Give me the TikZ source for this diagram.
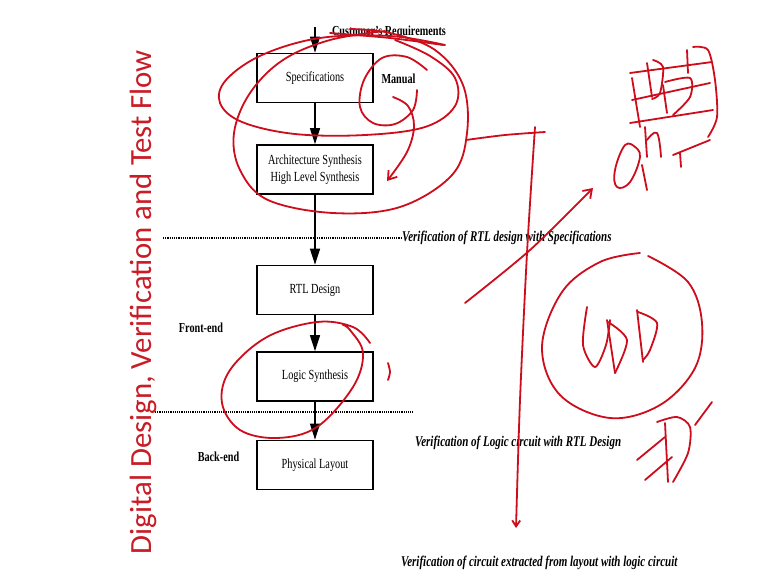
\documentclass[tikz,border=0pt]{standalone}
\usepackage{fontspec}
\setmainfont{Liberation Serif}
\newfontfamily\titlefont{Carlito}
\usetikzlibrary{arrows.meta}

\definecolor{ink}{RGB}{205,12,28}
\definecolor{titlered}{RGB}{200,28,38}

% diagram lettering is set a little taller than wide
\newcommand{\tall}[1]{\scalebox{1}[1.35]{#1}}

\begin{document}
\begin{tikzpicture}[x=1pt,y=-1pt,
  stage/.style={draw, line width=1.7pt, minimum width=116pt, minimum height=49pt,
    inner sep=0pt, font=\fontsize{10.3}{12.4}\selectfont},
  flow/.style={line width=1.3pt, -{Triangle[length=16pt,width=10pt]}},
  side/.style={font=\fontsize{10.2}{12}\selectfont\bfseries, inner sep=0pt},
  verif/.style={font=\fontsize{11}{13}\selectfont\bfseries\itshape, anchor=west, inner sep=0pt},
  sepline/.style={line width=1.3pt, dash pattern=on 1.1pt off 1.1pt},
  pen/.style={ink, line width=1.8pt, line cap=round, line join=round},
  barb/.style={-{Straight Barb[length=8pt,width=11pt]}},
  ]
\useasboundingbox (0,0) rectangle (767,581);
\fill[white] (0,0) rectangle (767,581);

% ---- flow stages ----
\node[stage] (spec)  at (315,78)    {\tall{Specifications}};
\node[stage] (arch)  at (315,169.5) {\tall{\begin{tabular}{@{}c@{}}Architecture Synthesis\\High Level Synthesis\end{tabular}}};
\node[stage] (rtl)   at (315,290)   {\tall{RTL Design}};
\node[stage] (logic) at (315,376.5) {\tall{Logic Synthesis}};
\node[stage] (phys)  at (315,465)   {\tall{Physical Layout}};

\coordinate (req) at (315,27);
\draw[flow] (req) -- (spec);
\draw[flow] (spec) -- (arch);
\draw[flow] (arch) -- (rtl);
\draw[flow] (rtl) -- (logic);
\draw[flow] (logic) -- (phys);

% ---- side labels ----
\node[side] (cust) at (389,32)    {\tall{Customer's Requirements}};
\node[side] (man)  at (398.5,79)  {\tall{Manual}};
\node[side] (fe)   at (201,328)   {\tall{Front-end}};
\node[side] (be)   at (218.5,457) {\tall{Back-end}};

% ---- verification steps ----
\node[verif] (v1) at (402,238) {\tall{Verification of RTL design with Specifications}};
\node[verif] (v2) at (415,443) {\tall{Verification of Logic circuit with RTL Design}};
\node[verif] (v3) at (401,563) {\tall{Verification of circuit extracted from layout with logic circuit}};

\coordinate (d1) at (163,238);
\draw[sepline] (d1) -- (v1.west);
\coordinate (d2a) at (155,412);
\coordinate (d2b) at (413,412);
\draw[sepline] (d2a) -- (d2b);

% ---- title ----
\node[rotate=90, anchor=base, text=titlered, inner sep=0pt,
  font=\titlefont\fontsize{30.8}{36}\selectfont] (title) at (151,302)
  {Digital Design, Verification and Test Flow};

% ---- pen annotations ----
% strike through the requirements label
\draw[pen] plot[smooth] coordinates {(330,33) (390,38) (443,45)};
% loops around the front stages
\draw[pen] plot[smooth, tension=0.6] coordinates {(445,45) (390,36) (320,38) (262,55) (226,80) (220,103) (242,122) (295,134) (365,135) (425,127) (455,106) (455,78) (430,56) (395,40)};
\draw[pen] plot[smooth, tension=0.6] coordinates {(385,31) (330,40) (283,60) (250,93) (234,133) (240,170) (268,200) (333,213) (400,207) (452,175) (467,133) (463,85) (435,50) (390,33) (350,29)};
% small curl beside the manual label
\draw[pen] plot[smooth, tension=0.6] coordinates {(427,70) (407,57) (382,58) (364,80) (360,107) (373,123) (395,124) (413,110) (417,90)};
\draw[pen, barb] plot[smooth, tension=0.6] coordinates {(393,97) (408,106) (414,126) (407,152) (387,181)};
% branch off to the right and long arrow down
\draw[pen] plot[smooth] coordinates {(466,140) (505,135) (545,132)};
\draw[pen, -{Straight Barb[length=6pt,width=8pt]}] plot[smooth] coordinates {(535,127) (527,253) (520,400) (516,528)};
% rising arrow
\draw[pen, barb] plot[smooth] coordinates {(465,303) (530,250) (593,188)};
% handwritten marks, top right
\draw[pen] plot[smooth, tension=0.7] coordinates {(635,147) (625,145) (615,170) (617,187) (630,182) (640,157) (635,147)};
\draw[pen] plot[smooth] coordinates {(642,165) (645,180) (647,190)};
\draw[pen] plot[smooth] coordinates {(645,127) (647,157)};
\draw[pen] plot[smooth, tension=0.7] coordinates {(647,140) (657,133) (661,157)};
\draw[pen] (630,73) -- (712,62);
\draw[pen] (632,100) -- (710,83);
\draw[pen] (630,123) -- (713,110);
\draw[pen] (673,155) -- (710,140);
\draw[pen] (632,78) -- (640,127);
\draw[pen] plot[smooth] coordinates {(693,47) (708,50) (715,80) (717,117) (708,137)};
\draw[pen] (647,63) -- (652,97);
\draw[pen] plot[smooth] coordinates {(653,60) (663,67) (660,93) (652,99)};
\draw[pen] (663,85) -- (667,113);
\draw[pen] plot[smooth] coordinates {(665,82) (690,78) (690,97) (673,115)};
\draw[pen] (687,50) -- (688,73);
\draw[pen] (680,153) -- (681,167);
% circled note
\draw[pen] plot[smooth, tension=0.6] coordinates {(640,253) (600,262) (562,292) (542,347) (560,395) (610,418) (660,405) (695,368) (702,323) (688,282) (648,256)};
\draw[pen] plot[smooth] coordinates {(587,307) (583,345) (595,367) (606,345) (610,320)};
\draw[pen] (607,320) -- (615,373);
\draw[pen] plot[smooth] coordinates {(608,322) (627,340) (615,373)};
\draw[pen] (637,310) -- (643,362);
\draw[pen] plot[smooth] coordinates {(638,312) (657,323) (650,350) (643,360)};
% mark below the circle
\draw[pen] (637,460) -- (665,437);
\draw[pen] (665,423) -- (668,482);
\draw[pen] plot[smooth] coordinates {(657,422) (677,417) (690,427) (688,453) (673,482)};
\draw[pen] (645,480) -- (672,457);
\draw[pen] (695,425) -- (712,402);
% loop round logic synthesis
\draw[pen] plot[smooth, tension=0.6] coordinates {(370,343) (353,327) (317,322) (267,337) (230,370) (222,403) (240,430) (277,438) (317,427) (353,387) (363,353) (350,330) (343,325)};
\draw[pen] plot[smooth] coordinates {(388,363) (390,372) (388,380)};
\end{tikzpicture}
\end{document}
